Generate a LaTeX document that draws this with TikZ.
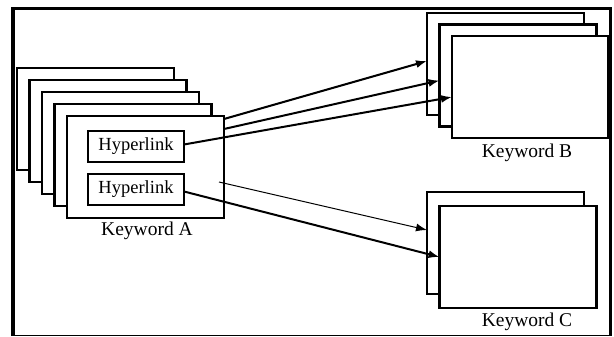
\documentclass[tikz,border=0pt]{standalone}
\usepackage{fontspec}
\setmainfont{Liberation Serif}
\usetikzlibrary{arrows.meta}
\begin{document}
\begin{tikzpicture}[x=1pt,y=-1pt,
  page/.style={draw, line width=2.2pt, fill=white, inner sep=0pt, outer sep=0pt, anchor=north west,
    minimum width=157pt, minimum height=102pt},
  link/.style={draw, line width=2.2pt, fill=white, inner sep=0pt, outer sep=0pt,
    minimum width=96pt, minimum height=31pt, font=\fontsize{18.5}{20}\selectfont},
  lbl/.style={font=\fontsize{19.5}{21}\selectfont, inner sep=0pt},
  thick arr/.style={line width=2pt, -{Latex[length=11pt,width=8pt]}},
  thin arr/.style={line width=1pt, -{Latex[length=11pt,width=8pt]}}]
\useasboundingbox (0,0) rectangle (614,337);
% frame
\coordinate (fnw) at (13,8.5);
\coordinate (fne) at (610.5,8.5);
\coordinate (fsw) at (13,335.5);
\coordinate (fse) at (610.5,335.5);
\draw[line width=3pt] ([xshift=-2pt]fnw) -- ([xshift=1pt]fne);
\draw[line width=4pt] (fnw) -- ([yshift=-0.8pt]fsw);
\draw[line width=2.5pt] (fne) -- (fse);
\draw[line width=1.6pt] (fsw) -- ([xshift=1.25pt]fse);
% stack A
\node[page] (a1) at (17,68) {};
\node[page] (a2) at (29.5,80) {};
\node[page] (a3) at (42,92) {};
\node[page] (a4) at (54.5,104) {};
\node[page] (a5) at (67,116) {};
\node[link] (h1) at (136,146.5) {Hyperlink};
\node[link] (h2) at (136,189.5) {Hyperlink};
\node[lbl] (ka) at (147,231) {Keyword A};
% stack B
\node[page] (b1) at (427,13) {};
\node[page] (b2) at (439.5,24.5) {};
\node[page, minimum width=156pt] (b3) at (452,36) {};
\node[lbl] (kb) at (527,153) {Keyword B};
% stack C
\node[page] (c1) at (427,192) {};
\node[page] (c2) at (439.5,206) {};
\node[lbl] (kc) at (527,322) {Keyword C};
% arrows
\draw[thick arr] ([yshift=-3pt]a5.north east) -- ([yshift=-48pt]b1.north west);
\draw[thick arr] ([yshift=-13pt]a5.north east) -- ([yshift=-56pt]b2.north west);
\draw[thick arr] ([yshift=2pt]h1.east) -- ([yshift=-61pt]b3.north west);
\draw[thin arr] ([xshift=-5pt,yshift=-66pt]a5.north east) -- ([yshift=-38pt]c1.north west);
\draw[thick arr] ([yshift=-2pt]h2.east) -- ([yshift=-51pt]c2.north west);
\end{tikzpicture}
\end{document}
